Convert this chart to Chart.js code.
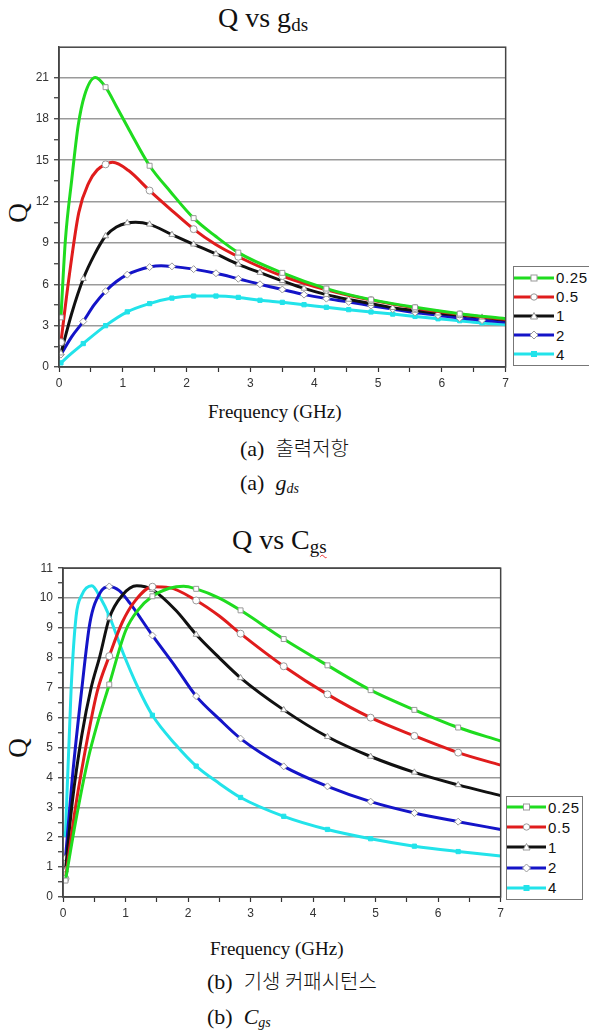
<!DOCTYPE html>
<html>
<head>
<meta charset="utf-8">
<script src="https://cdn.jsdelivr.net/npm/chart.js@4.4.1/dist/chart.umd.min.js"></script>
<style>
  body{margin:0;width:589px;height:1033px;overflow:hidden;background:#fff;position:relative;font-family:"Liberation Serif",serif;color:#111}
  .t{position:absolute;white-space:nowrap;line-height:1}
  canvas{position:absolute;left:0}
  .q{position:absolute;width:30px;height:30px;line-height:30px;text-align:center;font-size:27px;transform:rotate(-90deg)}
  .leg{position:absolute;border:1px solid #777;background:#fff;font:15px "Liberation Sans",Arial,sans-serif;letter-spacing:.6px;color:#111}
  .leg div{display:flex;align-items:center}
  .leg svg{margin-right:2px}
  .kr{font-family:"Noto Sans CJK KR",sans-serif;font-weight:300}
</style>
</head>
<body>

<div class="t" style="left:218px;top:4px;font-size:28px">Q vs g<span style="font-size:19px;position:relative;top:4px">ds</span></div>
<div class="q" style="left:3px;top:198px">Q</div>
<canvas id="c1" width="513" height="365" style="top:35px"></canvas>
<div class="leg" id="leg1" style="left:513px;top:266px;width:90px;height:97px;padding-top:1px"></div>
<div class="t" style="left:208px;top:402px;font-size:19px">Frequency (GHz)</div>
<div class="t" style="left:240px;top:438px;font-size:22px">(a)&nbsp; <span class="kr" style="font-size:20px">출력저항</span></div>
<div class="t" style="left:240px;top:472px;font-size:22px">(a)&nbsp; <i>g<span style="font-size:14px;position:relative;top:3px">ds</span></i></div>

<div class="t" style="left:232px;top:526px;font-size:28px">Q vs C<span style="font-size:19px;position:relative;top:4px;text-decoration:underline wavy #e33;text-decoration-thickness:1px">gs</span></div>
<div class="q" style="left:3px;top:733px">Q</div>
<canvas id="c2" width="508" height="380" style="top:556px"></canvas>
<div class="leg" id="leg2" style="left:506px;top:796px;width:75px;height:102px"></div>
<div class="t" style="left:210px;top:939px;font-size:19px">Frequency (GHz)</div>
<div class="t" style="left:207px;top:971px;font-size:22px">(b)&nbsp; <span class="kr" style="font-size:20px">기생 커패시턴스</span></div>
<div class="t" style="left:207px;top:1006px;font-size:22px">(b)&nbsp; <i>C<span style="font-size:14px;position:relative;top:3px">gs</span></i></div>

<script>
// legend labels (parameter values)
const labels = ['0.25', '0.5', '1', '2', '4'];

// --- Q vs gds : frequency (GHz) and Q ---
const gdsF025 = [0.03, 0.1, 0.2, 0.3, 0.4, 0.57, 0.73, 0.9, 1.1, 1.42, 1.75, 2.11, 2.45, 2.81, 3.5, 4.19, 4.89, 5.58, 6.28, 7.0];
const gdsQ025 = [3.6, 9.2, 13.6, 17.5, 19.7, 21.0, 20.3, 18.9, 17.2, 14.6, 12.7, 10.8, 9.5, 8.3, 6.83, 5.69, 4.89, 4.33, 3.87, 3.5];
const gdsF05 = [0.03, 0.16, 0.31, 0.47, 0.6, 0.73, 0.84, 1.09, 1.42, 1.77, 2.11, 2.45, 2.81, 3.5, 4.19, 4.89, 5.58, 6.28, 7.0];
const gdsQ05 = [1.8, 6.6, 11.2, 13.4, 14.3, 14.7, 14.85, 14.25, 12.8, 11.35, 10.0, 8.9, 8.0, 6.6, 5.6, 4.85, 4.28, 3.82, 3.45];
const gdsF1 = [0.03, 0.2, 0.38, 0.55, 0.73, 0.9, 1.07, 1.2, 1.42, 1.77, 2.11, 2.46, 2.81, 3.15, 3.5, 3.84, 4.19, 4.54, 4.89, 5.23, 5.58, 5.94, 6.28, 6.63, 7.0];
const gdsQ1 = [1.0, 3.9, 6.4, 8.1, 9.5, 10.15, 10.45, 10.5, 10.35, 9.6, 8.9, 8.2, 7.45, 6.85, 6.25, 5.7, 5.25, 4.9, 4.6, 4.3, 4.1, 3.9, 3.75, 3.6, 3.4];
const gdsF2 = [0.03, 0.2, 0.38, 0.55, 0.73, 0.9, 1.07, 1.42, 1.6, 1.77, 2.11, 2.46, 2.81, 3.15, 3.5, 3.84, 4.19, 4.54, 4.89, 5.23, 5.58, 5.94, 6.28, 6.63, 7.0];
const gdsQ2 = [0.9, 2.2, 3.3, 4.5, 5.5, 6.2, 6.7, 7.25, 7.35, 7.3, 7.1, 6.8, 6.4, 6.0, 5.62, 5.25, 4.96, 4.72, 4.45, 4.2, 3.96, 3.75, 3.55, 3.4, 3.26];
const gdsF4 = [0.03, 0.2, 0.38, 0.73, 1.07, 1.42, 1.77, 2.11, 2.46, 2.81, 3.15, 3.5, 3.84, 4.19, 4.54, 4.89, 5.23, 5.58, 5.94, 6.28, 6.63, 7.0];
const gdsQ4 = [0.3, 1.0, 1.7, 3.0, 4.0, 4.6, 5.0, 5.15, 5.15, 5.05, 4.84, 4.69, 4.52, 4.33, 4.16, 3.99, 3.84, 3.67, 3.5, 3.36, 3.2, 3.07];
// where the symbols sit
const gdsMarkWide = [0.03, 0.73, 1.42, 2.11, 2.81, 3.5, 4.19, 4.89, 5.58, 6.28];
const gdsMarkNarrow = [0.03, 0.38, 0.73, 1.07, 1.42, 1.77, 2.11, 2.46, 2.81, 3.15, 3.5, 3.84, 4.19, 4.54, 4.89, 5.23, 5.58, 5.94, 6.28, 6.63];

// --- Q vs Cgs ---
const cgsF025 = [0.04, 0.2, 0.4, 0.55, 0.74, 1.0, 1.2, 1.43, 1.7, 1.93, 2.13, 2.5, 2.84, 3.53, 4.23, 4.92, 5.62, 6.32, 7.0];
const cgsQ025 = [0.55, 2.5, 4.6, 5.8, 7.11, 8.9, 9.6, 10.06, 10.33, 10.4, 10.31, 10.0, 9.59, 8.63, 7.75, 6.92, 6.26, 5.67, 5.22];
const cgsF05 = [0.04, 0.2, 0.4, 0.55, 0.74, 0.95, 1.15, 1.43, 1.7, 2.13, 2.5, 2.84, 3.53, 4.23, 4.92, 5.62, 6.32, 7.0];
const cgsQ05 = [0.61, 3.0, 5.4, 6.9, 8.06, 9.2, 9.9, 10.38, 10.35, 9.92, 9.4, 8.81, 7.72, 6.78, 6.0, 5.39, 4.83, 4.41];
const cgsF1 = [0.04, 0.15, 0.3, 0.45, 0.59, 0.74, 0.95, 1.18, 1.43, 1.8, 2.13, 2.5, 2.84, 3.53, 4.23, 4.92, 5.62, 6.32, 7.0];
const cgsQ1 = [0.9, 3.2, 5.4, 7.0, 8.06, 9.33, 10.1, 10.41, 10.28, 9.6, 8.78, 8.0, 7.33, 6.26, 5.36, 4.7, 4.17, 3.75, 3.39];
const cgsF2 = [0.04, 0.15, 0.3, 0.43, 0.6, 0.74, 0.9, 1.07, 1.43, 1.8, 2.13, 2.5, 2.84, 3.53, 4.23, 4.92, 5.62, 6.32, 7.0];
const cgsQ2 = [1.3, 4.0, 6.95, 9.17, 10.2, 10.39, 10.25, 9.83, 8.75, 7.7, 6.72, 5.95, 5.3, 4.37, 3.7, 3.19, 2.81, 2.52, 2.26];
const cgsF4 = [0.04, 0.13, 0.21, 0.3, 0.46, 0.6, 0.74, 0.96, 1.2, 1.43, 1.8, 2.13, 2.5, 2.84, 3.53, 4.23, 4.92, 5.62, 6.32, 7.0];
const cgsQ4 = [2.1, 6.96, 9.4, 10.1, 10.41, 10.0, 9.4, 8.17, 7.0, 6.08, 5.1, 4.38, 3.8, 3.33, 2.7, 2.26, 1.95, 1.7, 1.52, 1.37];
const cgsMark = [0.04, 0.74, 1.43, 2.13, 2.84, 3.53, 4.23, 4.92, 5.62, 6.32];

const colors = ['#1fdc1f', '#e01c1c', '#111111', '#1414c8', '#22e3ea'];
const shapes = ['rect', 'circle', 'triangle', 'rectRot', 'rect'];

const frame = {
  id:'frame',
  afterDatasetsDraw(chart){
    const a = chart.chartArea, c = chart.ctx;
    c.save(); c.strokeStyle = '#444'; c.lineWidth = 1.5;
    c.strokeRect(a.left, a.top, a.right - a.left, a.bottom - a.top);
    c.restore();
  }
};

function series(fs, qs, marks){
  return fs.map((f, i) => ({
    data: f.map((x, j) => ({x, y: qs[i][j]})),
    borderColor: colors[i], borderWidth: 3, cubicInterpolationMode: 'monotone',
    pointStyle: shapes[i],
    pointRadius: ctx => (ctx.raw && marks[i].includes(ctx.raw.x)) ? (i === 4 ? 3 : 3.5) : 0,
    pointHoverRadius: 0,
    pointBackgroundColor: i === 4 ? colors[4] : '#fff',
    pointBorderColor: i === 4 ? colors[4] : '#999', pointBorderWidth: 1
  }));
}

function mount(id, datasets, yMax, yStep, yMajor, yW, xH, padTop){
  const near = (v, s) => Math.abs(v / s - Math.round(v / s)) < 1e-6;
  new Chart(document.getElementById(id), {
    type:'line',
    data:{ datasets },
    options:{
      responsive:false, animation:false,
      layout:{ padding:{ top:padTop, right:0, left:0, bottom:0 } },
      plugins:{ legend:{display:false}, tooltip:{enabled:false} },
      scales:{
        x:{ type:'linear', min:0, max:7,
          afterFit: s => { s.height = xH; },
          ticks:{ stepSize:0.5, autoSkip:false, maxRotation:0, padding:4, color:'#333',
            font:{family:'"Liberation Sans", Arial', size:12},
            callback: v => near(v, 1) ? v : '' },
          grid:{ drawOnChartArea:false, tickLength:5, tickColor:'#333', tickWidth:1.2 },
          border:{ color:'#444', width:1.5 } },
        y:{ min:0, max:yMax,
          afterFit: s => { s.width = yW; },
          afterBuildTicks: s => { s.ticks = s.ticks.filter(t => near(t.value, yStep)); },
          ticks:{ stepSize:yStep, autoSkip:false, padding:5, color:'#333',
            font:{family:'"Liberation Sans", Arial', size:12},
            callback: v => near(v, yMajor) ? v : '' },
          grid:{ color: c => (c.tick && c.tick.value > 0 && near(c.tick.value, yMajor)) ? '#9a9a9a' : 'rgba(0,0,0,0)',
            lineWidth:1.5, tickLength:5, tickColor:'#333', tickWidth:1.2 },
          border:{ color:'#444', width:1.5 } }
      }
    },
    plugins:[frame]
  });
}

mount('c1', series([gdsF025, gdsF05, gdsF1, gdsF2, gdsF4], [gdsQ025, gdsQ05, gdsQ1, gdsQ2, gdsQ4],
  [gdsMarkWide, gdsMarkWide, gdsMarkNarrow, gdsMarkNarrow, gdsMarkNarrow]), 23.2, 1.5, 3, 59, 33, 2);
mount('c2', series([cgsF025, cgsF05, cgsF1, cgsF2, cgsF4], [cgsQ025, cgsQ05, cgsQ1, cgsQ2, cgsQ4],
  [cgsMark, cgsMark, cgsMark, cgsMark, cgsMark]), 11, 0.5, 1, 63, 39, 11);

// legends: line + symbol, then label text
function symbol(i, cx){
  const col = colors[i], st = i === 4 ? `fill="${col}"` : 'fill="#fff" stroke="#999" stroke-width="1"';
  if (i === 0 || i === 4) return `<rect x="${cx-3}" y="4" width="6" height="6" ${st}/>`;
  if (i === 1) return `<circle cx="${cx}" cy="7" r="3.2" ${st}/>`;
  if (i === 2) return `<polygon points="${cx},3.5 ${cx+3.5},10 ${cx-3.5},10" ${st}/>`;
  return `<polygon points="${cx},3 ${cx+4},7 ${cx},11 ${cx-4},7" ${st}/>`;
}
function legend(id, w, rowH){
  document.getElementById(id).innerHTML = labels.map((l, i) =>
    `<div style="height:${rowH}px"><svg width="${w}" height="14"><line x1="0" y1="7" x2="${w}" y2="7" stroke="${colors[i]}" stroke-width="3"/>${symbol(i, w/2)}</svg><span>${l}</span></div>`
  ).join('');
}
legend('leg1', 40, 19.2);
legend('leg2', 39, 20.2);
</script>
</body>
</html>
